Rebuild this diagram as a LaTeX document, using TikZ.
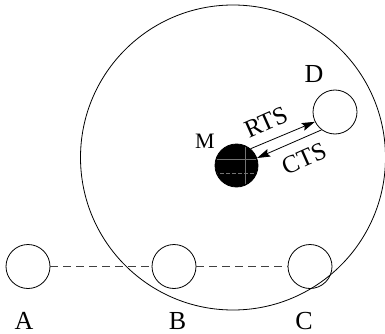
\documentclass[tikz,border=0pt]{standalone}
\usepackage{fontspec}
\setmainfont{Liberation Serif}
\usetikzlibrary{arrows.meta}
\tikzset{
  station/.style={circle, draw, line width=0.8pt, minimum size=44pt, inner sep=0pt},
  master/.style={station, fill=black, minimum size=43pt},
  lbl/.style={inner sep=0pt, font=\fontsize{26}{26}\selectfont},
  msg/.style={inner sep=0pt, font=\fontsize{25}{25}\selectfont, rotate=24},
  link/.style={line width=0.8pt, dash pattern=on 8pt off 5pt, draw=black!75},
  sig/.style={line width=0.8pt, -{Stealth[length=13pt, width=8pt, inset=2pt]}},
  hatch/.style={draw=black!55, line width=0.4pt}
}
\begin{document}
\begin{tikzpicture}[x=1pt, y=-1pt]
  \useasboundingbox (0,0) rectangle (385,334);

  % transmission range of M
  \node[circle, draw, line width=0.8pt, minimum size=305pt, inner sep=0pt] (range) at (233,157.5) {};

  % stations
  \node[station] (A) at (28,266.5) {};
  \node[station] (B) at (174,266.5) {};
  \node[station] (C) at (310,266.5) {};
  \node[station] (D) at (335,112) {};
  \node[master] (M) at (236.5,165.5) {};
  \begin{scope}
    \clip (236.5,165.5) circle (20.5pt);
    \draw[hatch] (214,159) -- (259,159);
    \draw[hatch, dash pattern=on 4pt off 2pt] (214,173) -- (259,173);
    \draw[hatch] (245,143) -- (245,188);
  \end{scope}

  % labels
  \node[lbl] (la) at (24,321) {A};
  \node[lbl] (lb) at (177.5,321) {B};
  \node[lbl] (lc) at (304,321) {C};
  \node[lbl] (ld) at (314,74.5) {D};
  \node[lbl, font=\fontsize{22}{22}\selectfont] (lm) at (205,141.5) {M};

  % chain of stations
  \draw[link] (A) -- (B);
  \draw[link] (B) -- (C);

  % handshake
  \draw[sig] (M.50) -- (D.206);
  \draw[sig] (D.233) -- (M.20);
  \node[msg] (rts) at (266,122) {RTS};
  \node[msg] (cts) at (304,159) {CTS};
\end{tikzpicture}
\end{document}
